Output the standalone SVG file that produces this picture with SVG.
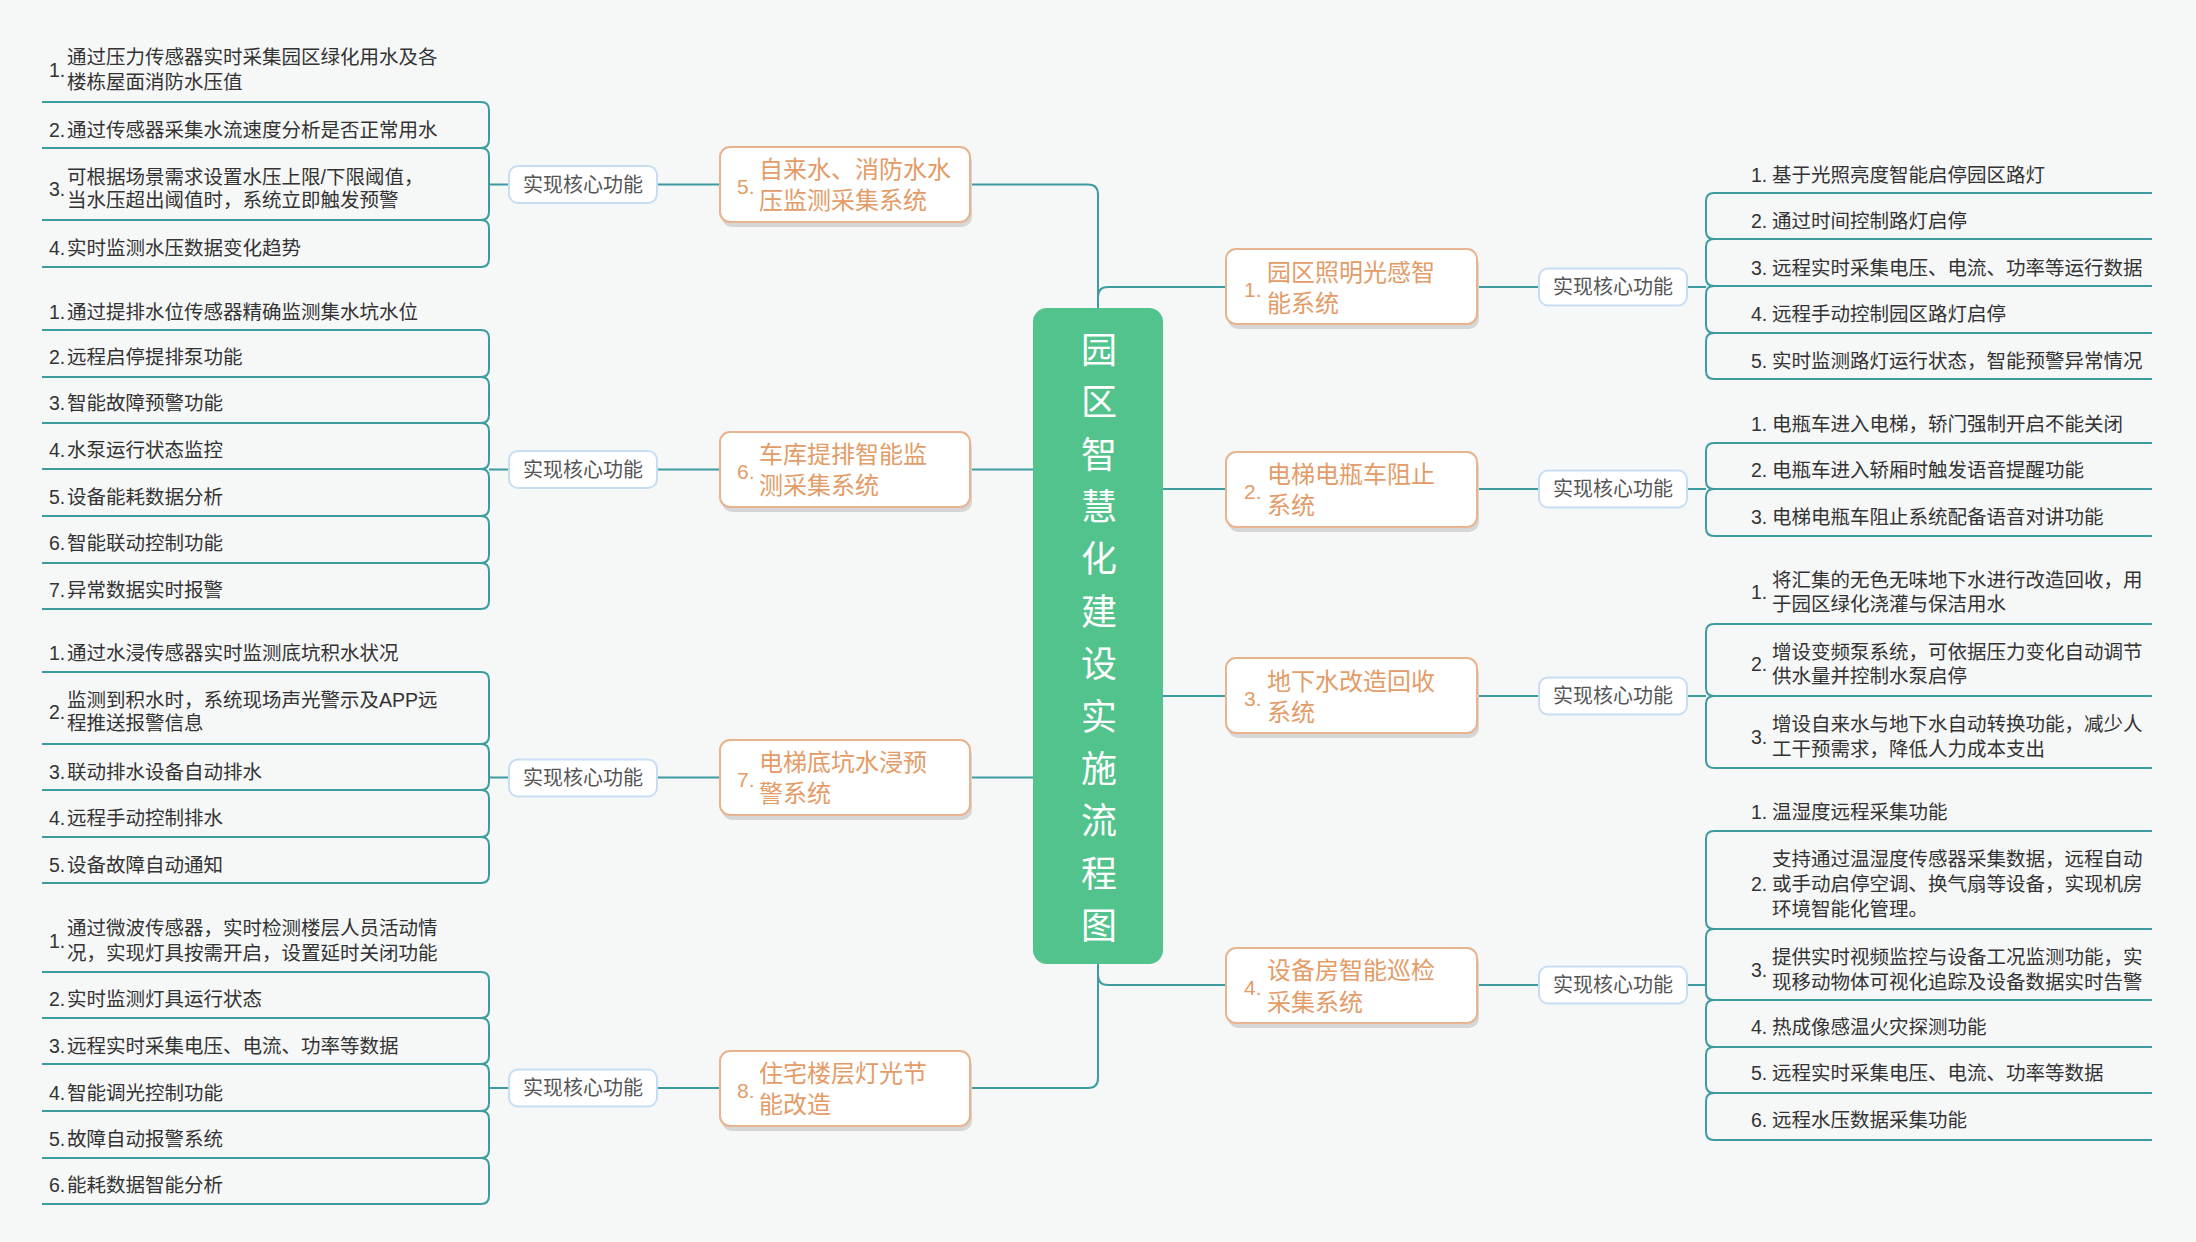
<svg xmlns="http://www.w3.org/2000/svg" width="2196" height="1242" viewBox="0 0 2196 1242">
<style>
.ln{fill:none;stroke:#3d9ca1;stroke-width:2}
.lf{font-family:"Liberation Sans","Noto Sans CJK SC",sans-serif;font-size:19.5px;fill:#333;dominant-baseline:central}
.fb{fill:#fff;stroke:#c6ddf3;stroke-width:2}
.ft{font-family:"Liberation Sans","Noto Sans CJK SC",sans-serif;font-size:20px;fill:#555;dominant-baseline:central;text-anchor:middle}
.nb{fill:#fff;stroke:#e8b38e;stroke-width:2}
.ns{fill:#d6d6d6}
.nt{font-family:"Liberation Sans","Noto Sans CJK SC",sans-serif;font-size:24px;fill:#e39c67;dominant-baseline:central}
.nn{font-family:"Liberation Sans","Noto Sans CJK SC",sans-serif;font-size:21px;fill:#e39c67;dominant-baseline:central}
.ct{font-family:"Noto Sans CJK SC",sans-serif;font-size:36px;fill:#fff;dominant-baseline:central;text-anchor:middle}
</style>
<rect x="0" y="0" width="2196" height="1242" fill="#f6f7f7"/>

<g id="connectors">
<path class="ln" d="M970,184.5 H1088 Q1098,184.5 1098,194.5 V308"/>
<path class="ln" d="M1226,287 H1108 Q1098,287 1098,297"/>
<path class="ln" d="M970,1088 H1088 Q1098,1088 1098,1078 V964"/>
<path class="ln" d="M1098,975 Q1098,985 1108,985 H1226"/>
<path class="ln" d="M970,469.5 H1033"/>
<path class="ln" d="M970,777.5 H1033"/>
<path class="ln" d="M1163,489 H1226"/>
<path class="ln" d="M1163,696 H1226"/>
<path class="ln" d="M657,184.5 H720 M489,184.5 H509"/>
<path class="ln" d="M657,469.5 H720 M489,469.5 H509"/>
<path class="ln" d="M657,777.5 H720 M489,777.5 H509"/>
<path class="ln" d="M657,1088 H720 M489,1088 H509"/>
<path class="ln" d="M1477,287 H1539 M1687,287 H1706"/>
<path class="ln" d="M1477,489 H1539 M1687,489 H1706"/>
<path class="ln" d="M1477,696 H1539 M1687,696 H1706"/>
<path class="ln" d="M1477,985 H1539 M1687,985 H1706"/>
<!-- left brackets -->
<path class="ln" d="M42,102 H481 Q489,102 489,110 V140 Q489,148 481,148 H42"/>
<path class="ln" d="M42,148 H481 Q489,148 489,156 V212 Q489,220 481,220 H42"/>
<path class="ln" d="M42,220 H481 Q489,220 489,228 V259 Q489,267 481,267 H42"/>
<path class="ln" d="M42,330 H481 Q489,330 489,338 V369 Q489,377 481,377 H42"/>
<path class="ln" d="M42,377 H481 Q489,377 489,385 V415 Q489,423 481,423 H42"/>
<path class="ln" d="M42,423 H481 Q489,423 489,431 V461 Q489,469 481,469 H42"/>
<path class="ln" d="M42,469 H481 Q489,469 489,477 V508 Q489,516 481,516 H42"/>
<path class="ln" d="M42,516 H481 Q489,516 489,524 V555 Q489,563 481,563 H42"/>
<path class="ln" d="M42,563 H481 Q489,563 489,571 V601 Q489,609 481,609 H42"/>
<path class="ln" d="M42,672 H481 Q489,672 489,680 V736 Q489,744 481,744 H42"/>
<path class="ln" d="M42,744 H481 Q489,744 489,752 V782 Q489,790 481,790 H42"/>
<path class="ln" d="M42,790 H481 Q489,790 489,798 V829 Q489,837 481,837 H42"/>
<path class="ln" d="M42,837 H481 Q489,837 489,845 V875 Q489,883 481,883 H42"/>
<path class="ln" d="M42,972 H481 Q489,972 489,980 V1010 Q489,1018 481,1018 H42"/>
<path class="ln" d="M42,1018 H481 Q489,1018 489,1026 V1056 Q489,1064 481,1064 H42"/>
<path class="ln" d="M42,1064 H481 Q489,1064 489,1072 V1103 Q489,1111 481,1111 H42"/>
<path class="ln" d="M42,1111 H481 Q489,1111 489,1119 V1150 Q489,1158 481,1158 H42"/>
<path class="ln" d="M42,1158 H481 Q489,1158 489,1166 V1196 Q489,1204 481,1204 H42"/>
<!-- right brackets -->
<path class="ln" d="M2152,193 H1714 Q1706,193 1706,201 V231 Q1706,239 1714,239 H2152"/>
<path class="ln" d="M2152,239 H1714 Q1706,239 1706,247 V278 Q1706,286 1714,286 H2152"/>
<path class="ln" d="M2152,286 H1714 Q1706,286 1706,294 V325 Q1706,333 1714,333 H2152"/>
<path class="ln" d="M2152,333 H1714 Q1706,333 1706,341 V371 Q1706,379 1714,379 H2152"/>
<path class="ln" d="M2152,443 H1714 Q1706,443 1706,451 V481 Q1706,489 1714,489 H2152"/>
<path class="ln" d="M2152,489 H1714 Q1706,489 1706,497 V528 Q1706,536 1714,536 H2152"/>
<path class="ln" d="M2152,624 H1714 Q1706,624 1706,632 V688 Q1706,696 1714,696 H2152"/>
<path class="ln" d="M2152,696 H1714 Q1706,696 1706,704 V760 Q1706,768 1714,768 H2152"/>
<path class="ln" d="M2152,831 H1714 Q1706,831 1706,839 V921 Q1706,929 1714,929 H2152"/>
<path class="ln" d="M2152,929 H1714 Q1706,929 1706,937 V992 Q1706,1000 1714,1000 H2152"/>
<path class="ln" d="M2152,1000 H1714 Q1706,1000 1706,1008 V1039 Q1706,1047 1714,1047 H2152"/>
<path class="ln" d="M2152,1047 H1714 Q1706,1047 1706,1055 V1085 Q1706,1093 1714,1093 H2152"/>
<path class="ln" d="M2152,1093 H1714 Q1706,1093 1706,1101 V1132 Q1706,1140 1714,1140 H2152"/>
</g>

<g id="center">
<rect x="1033" y="308" width="130" height="656" rx="14" fill="#52c38c"/>
<text class="ct"><tspan x="1099" y="347">园</tspan><tspan x="1099" y="399.4">区</tspan><tspan x="1099" y="451.7">智</tspan><tspan x="1099" y="504.1">慧</tspan><tspan x="1099" y="556.4">化</tspan><tspan x="1099" y="608.8">建</tspan><tspan x="1099" y="661.2">设</tspan><tspan x="1099" y="713.5">实</tspan><tspan x="1099" y="765.9">施</tspan><tspan x="1099" y="818.2">流</tspan><tspan x="1099" y="870.6">程</tspan><tspan x="1099" y="923">图</tspan></text>
</g>

<g id="node5">
<rect class="ns" x="722" y="152" width="250" height="75" rx="10"/>
<rect class="nb" x="720" y="147" width="250" height="75" rx="10"/>
<text class="nn" x="737" y="186">5.</text>
<text class="nt" x="759" y="169">自来水、消防水水</text>
<text class="nt" x="759" y="200">压监测采集系统</text>
</g>
<g id="node6">
<rect class="ns" x="722" y="437" width="250" height="75" rx="10"/>
<rect class="nb" x="720" y="432" width="250" height="75" rx="10"/>
<text class="nn" x="737" y="471">6.</text>
<text class="nt" x="759" y="454">车库提排智能监</text>
<text class="nt" x="759" y="485">测采集系统</text>
</g>
<g id="node7">
<rect class="ns" x="722" y="745" width="250" height="75" rx="10"/>
<rect class="nb" x="720" y="740" width="250" height="75" rx="10"/>
<text class="nn" x="737" y="779">7.</text>
<text class="nt" x="759" y="762">电梯底坑水浸预</text>
<text class="nt" x="759" y="793">警系统</text>
</g>
<g id="node8">
<rect class="ns" x="722" y="1056" width="250" height="75" rx="10"/>
<rect class="nb" x="720" y="1051" width="250" height="75" rx="10"/>
<text class="nn" x="737" y="1090">8.</text>
<text class="nt" x="759" y="1073">住宅楼层灯光节</text>
<text class="nt" x="759" y="1104">能改造</text>
</g>
<g id="node1">
<rect class="ns" x="1228" y="254" width="251" height="75" rx="10"/>
<rect class="nb" x="1226" y="249" width="251" height="75" rx="10"/>
<text class="nn" x="1244" y="289">1.</text>
<text class="nt" x="1267" y="272">园区照明光感智</text>
<text class="nt" x="1267" y="303">能系统</text>
</g>
<g id="node2">
<rect class="ns" x="1228" y="457" width="251" height="75" rx="10"/>
<rect class="nb" x="1226" y="452" width="251" height="75" rx="10"/>
<text class="nn" x="1244" y="491">2.</text>
<text class="nt" x="1267" y="474">电梯电瓶车阻止</text>
<text class="nt" x="1267" y="505">系统</text>
</g>
<g id="node3">
<rect class="ns" x="1228" y="663" width="251" height="75" rx="10"/>
<rect class="nb" x="1226" y="658" width="251" height="75" rx="10"/>
<text class="nn" x="1244" y="698">3.</text>
<text class="nt" x="1267" y="681">地下水改造回收</text>
<text class="nt" x="1267" y="712">系统</text>
</g>
<g id="node4">
<rect class="ns" x="1228" y="953" width="251" height="75" rx="10"/>
<rect class="nb" x="1226" y="948" width="251" height="75" rx="10"/>
<text class="nn" x="1244" y="987">4.</text>
<text class="nt" x="1267" y="970">设备房智能巡检</text>
<text class="nt" x="1267" y="1002">采集系统</text>
</g>

<g id="fn5"><rect class="fb" x="509" y="166" width="148" height="37" rx="9"/><text class="ft" x="583" y="184.5">实现核心功能</text></g>
<g id="fn6"><rect class="fb" x="509" y="451" width="148" height="37" rx="9"/><text class="ft" x="583" y="469.5">实现核心功能</text></g>
<g id="fn7"><rect class="fb" x="509" y="759.5" width="148" height="37" rx="9"/><text class="ft" x="583" y="778">实现核心功能</text></g>
<g id="fn8"><rect class="fb" x="509" y="1069.5" width="148" height="37" rx="9"/><text class="ft" x="583" y="1088">实现核心功能</text></g>
<g id="fn1"><rect class="fb" x="1539" y="268.5" width="148" height="37" rx="9"/><text class="ft" x="1613" y="287">实现核心功能</text></g>
<g id="fn2"><rect class="fb" x="1539" y="470.5" width="148" height="37" rx="9"/><text class="ft" x="1613" y="489">实现核心功能</text></g>
<g id="fn3"><rect class="fb" x="1539" y="677.5" width="148" height="37" rx="9"/><text class="ft" x="1613" y="696">实现核心功能</text></g>
<g id="fn4"><rect class="fb" x="1539" y="966.5" width="148" height="37" rx="9"/><text class="ft" x="1613" y="985">实现核心功能</text></g>

<g id="leaves5">
<text class="lf" x="49" y="70">1.</text><text class="lf" x="67" y="57">通过压力传感器实时采集园区绿化用水及各</text><text class="lf" x="67" y="82">楼栋屋面消防水压值</text>
<text class="lf" x="49" y="130">2.</text><text class="lf" x="67" y="130">通过传感器采集水流速度分析是否正常用水</text>
<text class="lf" x="49" y="188.5">3.</text><text class="lf" x="67" y="177">可根据场景需求设置水压上限/下限阈值，</text><text class="lf" x="67" y="200">当水压超出阈值时，系统立即触发预警</text>
<text class="lf" x="49" y="248">4.</text><text class="lf" x="67" y="248">实时监测水压数据变化趋势</text>
</g>
<g id="leaves6">
<text class="lf" x="49" y="312">1.</text><text class="lf" x="67" y="312">通过提排水位传感器精确监测集水坑水位</text>
<text class="lf" x="49" y="357">2.</text><text class="lf" x="67" y="357">远程启停提排泵功能</text>
<text class="lf" x="49" y="403">3.</text><text class="lf" x="67" y="403">智能故障预警功能</text>
<text class="lf" x="49" y="450">4.</text><text class="lf" x="67" y="450">水泵运行状态监控</text>
<text class="lf" x="49" y="497">5.</text><text class="lf" x="67" y="497">设备能耗数据分析</text>
<text class="lf" x="49" y="543">6.</text><text class="lf" x="67" y="543">智能联动控制功能</text>
<text class="lf" x="49" y="590">7.</text><text class="lf" x="67" y="590">异常数据实时报警</text>
</g>
<g id="leaves7">
<text class="lf" x="49" y="653">1.</text><text class="lf" x="67" y="653">通过水浸传感器实时监测底坑积水状况</text>
<text class="lf" x="49" y="711.5">2.</text><text class="lf" x="67" y="700">监测到积水时，系统现场声光警示及APP远</text><text class="lf" x="67" y="723">程推送报警信息</text>
<text class="lf" x="49" y="772">3.</text><text class="lf" x="67" y="772">联动排水设备自动排水</text>
<text class="lf" x="49" y="818">4.</text><text class="lf" x="67" y="818">远程手动控制排水</text>
<text class="lf" x="49" y="865">5.</text><text class="lf" x="67" y="865">设备故障自动通知</text>
</g>
<g id="leaves8">
<text class="lf" x="49" y="940.5">1.</text><text class="lf" x="67" y="928">通过微波传感器，实时检测楼层人员活动情</text><text class="lf" x="67" y="953">况，实现灯具按需开启，设置延时关闭功能</text>
<text class="lf" x="49" y="999">2.</text><text class="lf" x="67" y="999">实时监测灯具运行状态</text>
<text class="lf" x="49" y="1046">3.</text><text class="lf" x="67" y="1046">远程实时采集电压、电流、功率等数据</text>
<text class="lf" x="49" y="1093">4.</text><text class="lf" x="67" y="1093">智能调光控制功能</text>
<text class="lf" x="49" y="1139">5.</text><text class="lf" x="67" y="1139">故障自动报警系统</text>
<text class="lf" x="49" y="1185">6.</text><text class="lf" x="67" y="1185">能耗数据智能分析</text>
</g>
<g id="leaves1">
<text class="lf" x="1751" y="175">1.</text><text class="lf" x="1772" y="175">基于光照亮度智能启停园区路灯</text>
<text class="lf" x="1751" y="221">2.</text><text class="lf" x="1772" y="221">通过时间控制路灯启停</text>
<text class="lf" x="1751" y="268">3.</text><text class="lf" x="1772" y="268">远程实时采集电压、电流、功率等运行数据</text>
<text class="lf" x="1751" y="314">4.</text><text class="lf" x="1772" y="314">远程手动控制园区路灯启停</text>
<text class="lf" x="1751" y="361">5.</text><text class="lf" x="1772" y="361">实时监测路灯运行状态，智能预警异常情况</text>
</g>
<g id="leaves2">
<text class="lf" x="1751" y="424">1.</text><text class="lf" x="1772" y="424">电瓶车进入电梯，轿门强制开启不能关闭</text>
<text class="lf" x="1751" y="470">2.</text><text class="lf" x="1772" y="470">电瓶车进入轿厢时触发语音提醒功能</text>
<text class="lf" x="1751" y="517">3.</text><text class="lf" x="1772" y="517">电梯电瓶车阻止系统配备语音对讲功能</text>
</g>
<g id="leaves3">
<text class="lf" x="1751" y="592">1.</text><text class="lf" x="1772" y="580">将汇集的无色无味地下水进行改造回收，用</text><text class="lf" x="1772" y="604">于园区绿化浇灌与保洁用水</text>
<text class="lf" x="1751" y="664">2.</text><text class="lf" x="1772" y="652">增设变频泵系统，可依据压力变化自动调节</text><text class="lf" x="1772" y="676">供水量并控制水泵启停</text>
<text class="lf" x="1751" y="736.5">3.</text><text class="lf" x="1772" y="724">增设自来水与地下水自动转换功能，减少人</text><text class="lf" x="1772" y="749">工干预需求，降低人力成本支出</text>
</g>
<g id="leaves4">
<text class="lf" x="1751" y="812">1.</text><text class="lf" x="1772" y="812">温湿度远程采集功能</text>
<text class="lf" x="1751" y="884">2.</text><text class="lf" x="1772" y="859">支持通过温湿度传感器采集数据，远程自动</text><text class="lf" x="1772" y="884">或手动启停空调、换气扇等设备，实现机房</text><text class="lf" x="1772" y="909">环境智能化管理。</text>
<text class="lf" x="1751" y="969.5">3.</text><text class="lf" x="1772" y="957">提供实时视频监控与设备工况监测功能，实</text><text class="lf" x="1772" y="982">现移动物体可视化追踪及设备数据实时告警</text>
<text class="lf" x="1751" y="1027">4.</text><text class="lf" x="1772" y="1027">热成像感温火灾探测功能</text>
<text class="lf" x="1751" y="1073">5.</text><text class="lf" x="1772" y="1073">远程实时采集电压、电流、功率等数据</text>
<text class="lf" x="1751" y="1120">6.</text><text class="lf" x="1772" y="1120">远程水压数据采集功能</text>
</g>
</svg>
